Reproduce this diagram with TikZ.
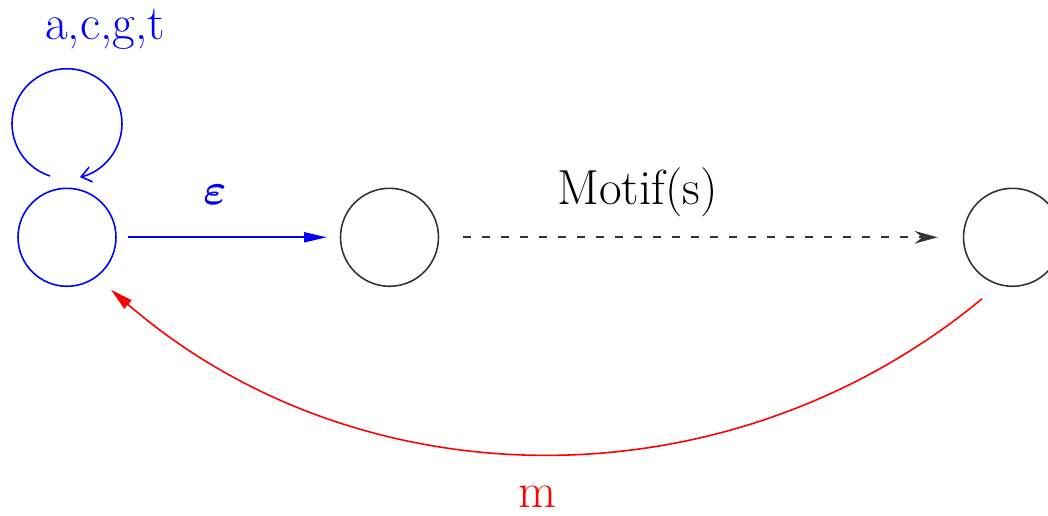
\documentclass[tikz,border=0pt]{standalone}
\usepackage{amsmath}
\usetikzlibrary{arrows.meta,positioning}

\begin{document}
\begin{tikzpicture}[x=0.02cm,y=0.02cm,
  state/.style={draw,circle,minimum size=1.96cm,inner sep=0pt,line width=0.9pt},
  lbl/.style={font=\fontsize{28}{32}\selectfont,anchor=base,inner sep=0pt},
  trans/.style={line width=0.9pt}]
  \useasboundingbox (0,0) rectangle (1048,516);
  \node[state,blue] (s0) at (67,278.7) {};
  \node[state,black!80] (s1) at (389.5,278.7) {};
  \node[state,black!80] (s2) at (1012.5,278.7) {};
  \coordinate (loopstart) at (50,340);
  \draw[trans,blue,-{Straight Barb[length=0.2cm,width=0.3cm]}] (loopstart)
    arc[start angle=252,end angle=-76.5,radius=1.1cm];
  \draw[trans,blue,-{Triangle[length=0.45cm,width=0.2cm]},
    shorten <=0.22cm,shorten >=0.26cm] (s0) -- (s1);
  \draw[trans,black!80,dash pattern=on 0.16cm off 0.22cm,
    -{Stealth[length=0.46cm,width=0.25cm]},
    shorten <=0.48cm,shorten >=0.5cm] (s1) -- (s2);
  \draw[trans,red,-{Triangle[length=0.45cm,width=0.22cm]}]
    ([shift={(-30.5,-61.5)}]s2.center) to[out=219.6,in=319.2,looseness=0.965]
    ([shift={(44,-52.5)}]s0.center);
  \node[lbl,blue] (sigma) at (105,476) {a,c,g,t};
  \node[lbl,blue] (eps) at (215,311) {$\boldsymbol{\varepsilon}$};
  \node[lbl] (motif) at (637.5,311) {Motif(s)};
  \node[lbl,red] (m) at (537,8) {m};
\end{tikzpicture}
\end{document}
